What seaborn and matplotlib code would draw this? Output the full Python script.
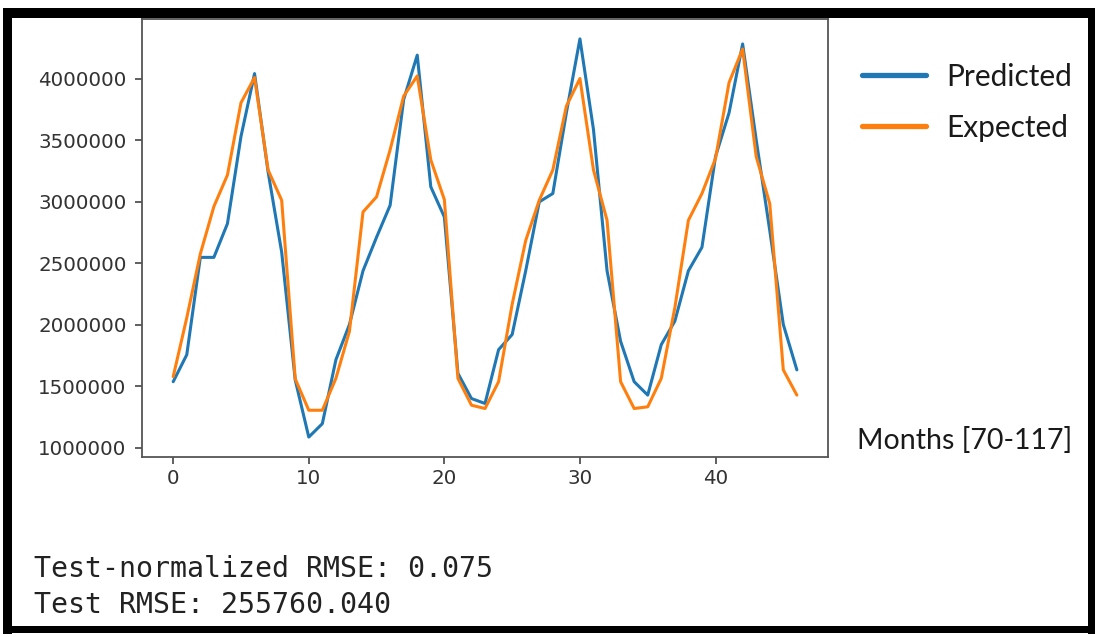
import numpy as np
import pandas as pd
import matplotlib
matplotlib.use("Agg")
import matplotlib.pyplot as plt
from matplotlib.patches import Rectangle
from matplotlib.ticker import StrMethodFormatter
import seaborn as sns

# Monthly values over the test window (months 70-117)
months = list(range(47))
predicted = [1537000, 1756000, 2547000, 2547000, 2821000, 3530000, 4040000, 3240000, 2590000, 1551000,
             1087000, 1196000, 1715000, 2002000, 2438000, 2711000, 2970000, 3830000, 4190000, 3120000,
             2875000, 1605000, 1400000, 1360000, 1797000, 1920000, 2438000, 2998000, 3066000, 3722000,
             4322000, 3585000, 2438000, 1865000, 1537000, 1428000, 1838000, 2029000, 2438000, 2629000,
             3366000, 3722000, 4281000, 3503000, 2766000, 2002000, 1633000]
expected = [1578000, 2056000, 2575000, 2960000, 3216000, 3803000, 4008000, 3257000, 3011000, 1560000,
            1305000, 1305000, 1564000, 1947000, 2916000, 3039000, 3421000, 3857000, 4021000, 3339000,
            3016000, 1564000, 1346000, 1319000, 1537000, 2165000, 2684000, 3011000, 3257000, 3776000,
            4000000, 3257000, 2848000, 1537000, 1319000, 1333000, 1564000, 2138000, 2848000, 3066000,
            3350000, 3967000, 4240000, 3366000, 2984000, 1633000, 1428000]
series_names = ["Predicted", "Expected"]
x_label = "Months [70-117]"
metric_lines = ["Test-normalized RMSE: 0.075", "Test RMSE: 255760.040"]

df = pd.DataFrame({
    "month": months * 2,
    "value": predicted + expected,
    "series": [series_names[0]] * len(months) + [series_names[1]] * len(months),
})

sns.set_style("ticks")
plt.rcParams["font.family"] = ["DejaVu Sans"]

fig = plt.figure(figsize=(10.95, 6.37), dpi=100)
ax = fig.add_axes([0.1297, 0.2826, 0.6265, 0.6876])

sns.lineplot(data=df, x="month", y="value", hue="series",
             palette=["#1f77b4", "#ff7f0e"], linewidth=2.2, ax=ax, legend=True)

ax.set_xticks([0, 10, 20, 30, 40])
ax.set_yticks([1000000, 1500000, 2000000, 2500000, 3000000, 3500000, 4000000])
ax.yaxis.set_major_formatter(StrMethodFormatter("{x:.0f}"))
ax.tick_params(axis="both", labelsize=14.3, colors="#444444", labelcolor="#333333",
               length=5, width=1.2, direction="out")
ax.tick_params(axis="y", pad=6)
ax.set_xlabel("")
ax.set_ylabel("")
for sp in ax.spines.values():
    sp.set_visible(True)
    sp.set_color("#555555")
    sp.set_linewidth(1.3)

# Legend outside the axes, to the right
handles, labels = ax.get_legend_handles_labels()
ax.get_legend().remove()
leg = fig.legend(handles, labels, loc="upper left", bbox_to_anchor=(0.7623, 0.944),
                 frameon=False, prop={"family": "Lato", "size": 21.5},
                 handlelength=2.17, handletextpad=0.67, labelspacing=0.77)
for line in leg.get_lines():
    line.set_linewidth(3.8)
for t in leg.get_texts():
    t.set_color("#1a1a1a")

fig.text(0.783, 0.309, x_label, fontsize=20.5, family="Lato", color="#1a1a1a",
         ha="left", va="center")

# Printed metrics under the chart
fig.text(0.031, 0.106, metric_lines[0], fontsize=20.3, family="DejaVu Sans Mono",
         color="#222222", ha="left", va="center")
fig.text(0.031, 0.050, metric_lines[1], fontsize=20.3, family="DejaVu Sans Mono",
         color="#222222", ha="left", va="center")

# Black frame around the whole figure
W, H = 1095.0, 637.0
for (x0, y0, w, h) in [(3, 8, 1092, 10), (3, 8, 9, 626), (1088, 8, 7, 626), (3, 626, 1092, 7)]:
    fig.patches.append(Rectangle((x0 / W, 1 - (y0 + h) / H), w / W, h / H,
                                 transform=fig.transFigure, facecolor="black",
                                 edgecolor="none", zorder=10))

fig.savefig("out.png", dpi=100)
